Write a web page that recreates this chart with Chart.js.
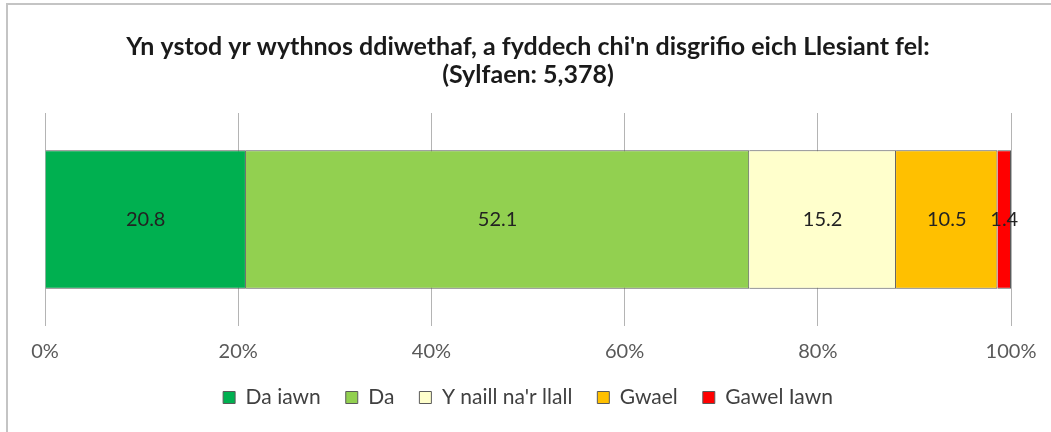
<!DOCTYPE html>
<html>
<head>
<meta charset="utf-8">
<script src="https://cdn.jsdelivr.net/npm/chart.js@4"></script>
<style>
  html, body { margin: 0; padding: 0; background: #fff; }
  #wrap { position: relative; width: 1051px; height: 432px; }
  #frame { position: absolute; left: 6px; top: 3px; right: 0; bottom: 0;
           border-top: 2px solid #c4c4c4; border-left: 2px solid #c4c4c4; }
  canvas { position: absolute; left: 0; top: 0; }
</style>
</head>
<body>
<div id="wrap">
  <div id="frame"></div>
  <canvas id="chart" width="1051" height="432"></canvas>
</div>
<script>
const titleLines = [
  "Yn ystod yr wythnos ddiwethaf, a fyddech chi'n disgrifio eich Llesiant fel:",
  "(Sylfaen: 5,378)",
];
const categories = [""];
const seriesNames = ["Da iawn", "Da", "Y naill na'r llall", "Gwael", "Gawel Iawn"];
const seriesValues = [20.8, 52.1, 15.2, 10.5, 1.4];
const seriesColors = ["#00b050", "#92d050", "#ffffcc", "#ffc000", "#ff0000"];
const xTicks = [0, 20, 40, 60, 80, 100];

const FONT = "Lato";

// write each segment's value in its middle
const valueLabels = {
  id: "valueLabels",
  afterDatasetsDraw(chart) {
    const ctx = chart.ctx;
    ctx.save();
    ctx.font = `20px ${FONT}`;
    ctx.fillStyle = "#222";
    ctx.textAlign = "center";
    ctx.textBaseline = "middle";
    chart.data.datasets.forEach((ds, i) => {
      chart.getDatasetMeta(i).data.forEach((bar, j) => {
        const mid = (bar.x + bar.base) / 2;
        ctx.fillText(ds.data[j].toFixed(1), mid, bar.y);
      });
    });
    ctx.restore();
  },
};

new Chart(document.getElementById("chart"), {
  type: "bar",
  data: {
    labels: categories,
    datasets: seriesNames.map((name, i) => ({
      label: name,
      data: [seriesValues[i]],
      backgroundColor: seriesColors[i],
      borderColor: "#5a5a5a",
      borderWidth: 1,
      categoryPercentage: 1,
      barPercentage: 0.65,
    })),
  },
  options: {
    indexAxis: "y",
    responsive: false,
    animation: false,
    layout: { padding: { top: 3, left: 45, right: 40, bottom: 14 } },
    scales: {
      x: {
        stacked: true,
        min: 0,
        max: 100,
        afterBuildTicks: (axis) => {
          axis.ticks = xTicks.map((v) => ({ value: v }));
        },
        afterFit: (axis) => {
          axis.height = 36;
          axis.paddingLeft = 0;
          axis.paddingRight = 0;
        },
        border: { display: false },
        grid: { color: "#b4b4b4", lineWidth: 1, drawTicks: false },
        ticks: {
          callback: (v) => v + "%",
          color: "#595959",
          font: { family: FONT, size: 20 },
          padding: 14,
          maxRotation: 0,
        },
      },
      y: {
        stacked: true,
        display: false,
      },
    },
    plugins: {
      title: {
        display: true,
        text: titleLines,
        color: "#1a1a1a",
        font: { family: FONT, size: 25, weight: "bold", lineHeight: 1.12 },
        padding: { top: 30, bottom: 24 },
      },
      legend: {
        position: "bottom",
        labels: {
          boxWidth: 12,
          boxHeight: 12,
          color: "#404040",
          font: { family: FONT, size: 21 },
          padding: 25,
        },
      },
      tooltip: { enabled: false },
    },
  },
  plugins: [valueLabels],
});
</script>
</body>
</html>
